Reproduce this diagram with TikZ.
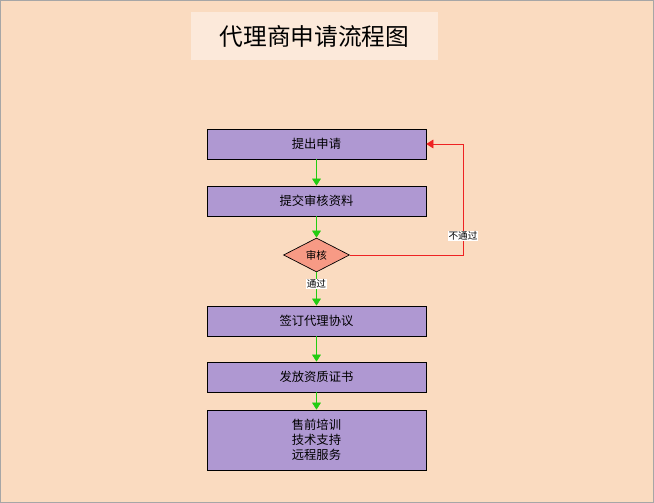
\documentclass[tikz,border=0pt]{standalone}
\usepackage{fontspec}
\setmainfont{Noto Sans CJK SC}
\usetikzlibrary{shapes.geometric,arrows.meta}
\definecolor{bgpeach}{HTML}{FADBC0}
\definecolor{titlefill}{HTML}{FCE9DA}
\definecolor{stepfill}{HTML}{AF98D2}
\definecolor{checkfill}{HTML}{F79A85}
\definecolor{okgreen}{HTML}{22CC11}
\definecolor{failred}{HTML}{EE2222}
\tikzset{
  stepbox/.style={rectangle,draw=black,fill=stepfill,minimum width=4.38cm,minimum height=0.6cm,font=\fontsize{7}{8.5}\selectfont,align=center},
  checkbox/.style={diamond,draw=black,fill=checkfill,minimum width=1.32cm,minimum height=0.68cm,inner sep=0pt,aspect=2,font=\fontsize{6}{7}\selectfont},
  yes/.style={draw=okgreen,-{Triangle[length=4pt,width=5pt]}},
  no/.style={draw=failred,-{Triangle[length=4pt,width=5pt]}},
  tag/.style={fill=white,inner sep=0.5pt,font=\fontsize{5.5}{6}\selectfont}
}
\begin{document}
\begin{tikzpicture}[x=0.02cm,y=-0.02cm]
	\fill[bgpeach] (0,0) rectangle (654,503);
	\draw[gray!70] (0.5,0.5) rectangle (653.5,502.5);
	\node (title) at (314.5,36) [rectangle,fill=titlefill,minimum width=4.94cm,minimum height=0.96cm,font=\fontsize{13.5}{15}\selectfont] {代理商申请流程图};
	
	\node (apply) at (316.5,144) [stepbox] {提出申请};
	\node (submit) at (316.5,201) [stepbox] {提交审核资料};
	\node (check) at (316.5,255) [checkbox] {审核};
	\node (sign) at (316.5,321) [stepbox] {签订代理协议};
	\node (issue) at (316.5,377) [stepbox] {发放资质证书};
	\node (serve) at (316.5,440) [stepbox,minimum height=1.2cm] {售前培训\\技术支持\\远程服务};
	\coordinate (turn) at (463,255);
	
	\draw[yes] (apply) -- (submit);
	\draw[yes] (submit) -- (check);
	\draw[yes] (check) -- node[tag,pos=0.35] {通过} (sign);
	\draw[yes] (sign) -- (issue);
	\draw[yes] (issue) -- (serve);
	\draw[no] (check.east) -- (turn) -- node[tag,pos=0.17,text=black] {不通过} (turn |- apply) -- (apply.east);
\end{tikzpicture}
\end{document}
